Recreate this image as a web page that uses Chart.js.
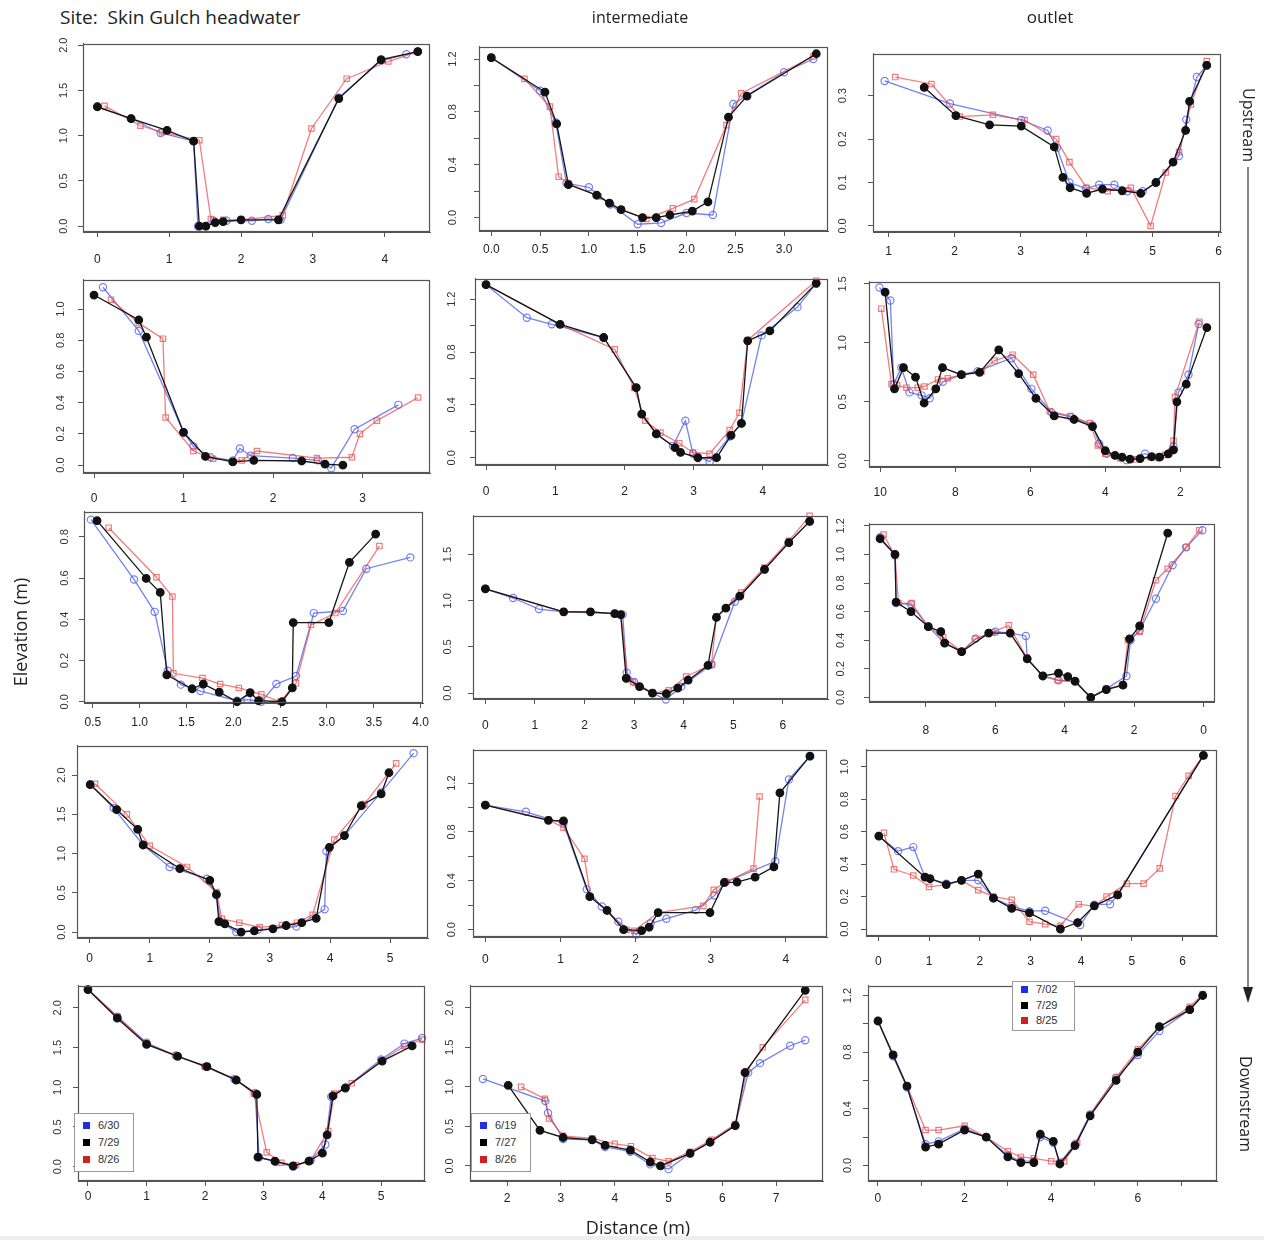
<!DOCTYPE html>
<html><head><meta charset="utf-8">
<script src="https://cdn.jsdelivr.net/npm/chart.js@4.4.1/dist/chart.umd.min.js"></script>
<style>
body{margin:0;background:#fff;width:1264px;height:1240px;position:relative;overflow:hidden;font-family:"Open Sans",sans-serif;color:#222;}
.pc{position:absolute;}
.t{position:absolute;white-space:nowrap;font-size:16px;line-height:20px;}
.leg{position:absolute;border:1px solid #999;background:#fff;font-family:"Liberation Sans",Arial,sans-serif;font-size:11px;color:#333;box-sizing:border-box;padding:3px 0 0 8px;}
.leg div{height:17px;line-height:17px;}
.leg.small{padding-top:0px;}
.leg.small div{height:15.5px;line-height:15.5px;}
.leg span{display:inline-block;width:7px;height:7px;margin-right:8px;vertical-align:0px;}
</style></head><body>
<script>
// ---------- data: [distance, elevation] ----------
// Row 1 (upstream)
const hw1Blue  = [[0,1.32],[0.47,1.19],[0.88,1.03],[1.34,0.94],[1.40,0.0],[1.51,0.0],[1.62,0.06],[1.80,0.06],[2.15,0.06],[2.38,0.08],[2.55,0.07],[3.36,1.42],[3.95,1.83],[4.30,1.90],[4.46,1.93]];
const hw1Black = [[0,1.32],[0.47,1.19],[0.97,1.06],[1.34,0.94],[1.42,0.0],[1.51,0.0],[1.64,0.04],[1.75,0.05],[2.0,0.07],[2.52,0.07],[3.36,1.41],[3.95,1.84],[4.46,1.93]];
const hw1Red   = [[0.10,1.33],[0.60,1.11],[0.90,1.04],[1.42,0.95],[1.58,0.08],[1.75,0.07],[2.0,0.07],[2.58,0.12],[2.98,1.08],[3.47,1.63],[4.05,1.82],[4.46,1.93]];
const in1Blue  = [[0,1.21],[0.50,0.96],[0.66,0.72],[0.77,0.26],[1.0,0.23],[1.22,0.10],[1.50,-0.05],[1.74,-0.04],[2.0,0.035],[2.27,0.02],[2.48,0.86],[3.0,1.10],[3.30,1.20]];
const in1Black = [[0,1.21],[0.55,0.95],[0.67,0.71],[0.79,0.25],[1.08,0.17],[1.21,0.11],[1.33,0.06],[1.55,0.0],[1.69,0.0],[1.83,0.02],[2.06,0.05],[2.22,0.12],[2.43,0.76],[2.62,0.92],[3.33,1.24]];
const in1Red   = [[0,1.21],[0.34,1.05],[0.60,0.84],[0.69,0.31],[0.79,0.26],[1.10,0.16],[1.33,0.06],[1.59,-0.01],[1.86,0.07],[2.08,0.14],[2.41,0.70],[2.56,0.94],[3.30,1.22]];
const ou1Blue  = [[0.94,0.334],[1.93,0.282],[3.01,0.244],[3.41,0.22],[3.55,0.18],[3.74,0.10],[3.99,0.086],[4.19,0.095],[4.42,0.095],[4.62,0.08],[4.85,0.08],[5.05,0.10],[5.40,0.161],[5.51,0.245],[5.67,0.343],[5.82,0.37]];
const ou1Black = [[1.54,0.319],[2.02,0.254],[2.53,0.233],[3.01,0.23],[3.51,0.182],[3.64,0.112],[3.75,0.088],[4.0,0.075],[4.24,0.085],[4.54,0.081],[4.82,0.075],[5.05,0.10],[5.31,0.147],[5.50,0.22],[5.56,0.287],[5.82,0.37]];
const ou1Red   = [[1.10,0.343],[1.65,0.327],[2.08,0.252],[2.58,0.256],[3.06,0.244],[3.54,0.20],[3.74,0.147],[4.0,0.088],[4.32,0.08],[4.67,0.088],[4.97,0.0],[5.20,0.123],[5.40,0.17],[5.58,0.28],[5.82,0.38]];
// Row 2
const hw2Blue  = [[0.10,1.14],[0.50,0.86],[1.0,0.21],[1.11,0.12],[1.30,0.05],[1.55,0.03],[1.63,0.106],[1.75,0.06],[2.22,0.045],[2.50,0.03],[2.65,-0.02],[2.91,0.23],[3.40,0.386]];
const hw2Black = [[0,1.09],[0.50,0.93],[0.585,0.82],[1.0,0.21],[1.245,0.055],[1.55,0.02],[1.785,0.03],[2.32,0.026],[2.58,0.006],[2.78,0.0]];
const hw2Red   = [[0.19,1.06],[0.50,0.91],[0.77,0.81],[0.80,0.305],[1.11,0.09],[1.33,0.04],[1.65,0.03],[1.82,0.09],[2.49,0.045],[2.88,0.05],[2.97,0.20],[3.16,0.285],[3.62,0.433]];
const in2Blue  = [[0,1.31],[0.59,1.06],[0.95,1.01],[1.70,0.91],[2.17,0.53],[2.25,0.33],[2.46,0.18],[2.70,0.09],[2.88,0.28],[2.99,0.03],[3.23,-0.03],[3.52,0.16],[3.69,0.26],[3.98,0.926],[4.50,1.14],[4.77,1.32]];
const in2Black = [[0,1.31],[1.07,1.01],[1.70,0.91],[2.17,0.53],[2.25,0.33],[2.46,0.18],[2.73,0.077],[2.81,0.04],[3.06,0.0],[3.33,0.0],[3.54,0.17],[3.69,0.26],[3.78,0.885],[4.10,0.96],[4.77,1.32]];
const in2Red   = [[0,1.31],[1.07,1.01],[1.86,0.82],[2.14,0.53],[2.30,0.28],[2.52,0.19],[2.79,0.11],[2.99,0.04],[3.23,0.03],[3.52,0.21],[3.66,0.34],[3.78,0.89],[4.77,1.34]];
const ou2Blue  = [[10.02,1.47],[9.73,1.36],[9.64,0.65],[9.44,0.79],[9.22,0.58],[8.90,0.555],[8.68,0.53],[8.33,0.67],[7.84,0.73],[7.40,0.76],[6.50,0.87],[5.97,0.61],[5.43,0.41],[4.90,0.37],[4.34,0.30],[4.16,0.145],[3.96,0.06],[3.43,0.005],[2.94,0.06],[2.60,0.03],[2.18,0.12],[2.05,0.58],[1.78,0.73],[1.51,1.16]];
const ou2Black = [[9.87,1.43],[9.62,0.61],[9.38,0.79],[9.06,0.71],[8.83,0.49],[8.52,0.61],[8.34,0.79],[7.84,0.73],[7.35,0.75],[6.84,0.94],[6.31,0.74],[5.85,0.53],[5.36,0.38],[4.83,0.35],[4.34,0.29],[4.0,0.085],[3.74,0.045],[3.55,0.03],[3.34,0.013],[3.07,0.018],[2.76,0.034],[2.55,0.03],[2.32,0.058],[2.18,0.093],[2.09,0.50],[1.84,0.65],[1.29,1.13]];
const ou2Red   = [[9.97,1.29],[9.70,0.65],[9.55,0.64],[9.30,0.62],[9.00,0.62],[8.82,0.63],[8.46,0.69],[8.20,0.70],[7.80,0.73],[7.30,0.76],[6.95,0.85],[6.47,0.90],[5.92,0.73],[5.48,0.42],[4.94,0.38],[4.41,0.32],[4.20,0.13],[4.0,0.06],[3.60,0.02],[3.20,0.01],[2.80,0.03],[2.40,0.05],[2.18,0.17],[2.14,0.54],[1.49,1.18]];
// Row 3
const hw3Blue  = [[0.48,0.883],[0.94,0.593],[1.16,0.436],[1.30,0.15],[1.44,0.083],[1.65,0.052],[2.04,0.005],[2.15,0.01],[2.30,0.0],[2.46,0.086],[2.67,0.125],[2.86,0.43],[3.17,0.44],[3.42,0.645],[3.89,0.70]];
const hw3Black = [[0.545,0.878],[1.07,0.598],[1.22,0.53],[1.29,0.13],[1.56,0.063],[1.68,0.086],[1.85,0.047],[2.04,0.0],[2.18,0.044],[2.27,0.005],[2.52,0.0],[2.63,0.067],[2.64,0.384],[3.02,0.384],[3.24,0.676],[3.52,0.813]];
const hw3Red   = [[0.67,0.844],[1.18,0.604],[1.35,0.51],[1.36,0.138],[1.67,0.115],[1.86,0.086],[2.06,0.067],[2.30,0.036],[2.50,0.0],[2.67,0.09],[2.83,0.373],[3.09,0.43],[3.56,0.755]];
const in3Blue  = [[0,1.13],[0.56,1.03],[1.08,0.91],[1.58,0.88],[2.61,0.86],[2.77,0.85],[2.85,0.22],[3.0,0.12],[3.37,0.0],[3.64,-0.07],[3.95,0.07],[4.56,0.31],[5.03,0.99],[5.63,1.34],[6.12,1.63],[6.54,1.86]];
const in3Black = [[0,1.13],[1.58,0.88],[2.12,0.88],[2.61,0.86],[2.73,0.85],[2.84,0.16],[3.11,0.07],[3.37,0.0],[3.65,-0.007],[3.88,0.054],[4.09,0.14],[4.49,0.30],[4.66,0.82],[4.85,0.92],[5.13,1.05],[5.63,1.34],[6.12,1.63],[6.54,1.86]];
const in3Red   = [[0,1.13],[1.58,0.88],[2.12,0.88],[2.61,0.86],[2.73,0.85],[2.88,0.15],[2.98,0.12],[3.37,0.0],[3.70,0.03],[4.05,0.18],[4.56,0.31],[4.66,0.83],[5.16,1.09],[5.63,1.36],[6.12,1.65],[6.54,1.92]];
const ou3Blue  = [[9.32,1.12],[8.89,1.0],[8.86,0.66],[8.43,0.65],[7.93,0.495],[7.46,0.38],[6.97,0.32],[6.57,0.41],[6.0,0.46],[5.57,0.45],[5.12,0.43],[5.08,0.27],[4.63,0.15],[4.18,0.12],[3.70,0.11],[3.25,0.0],[2.80,0.06],[2.22,0.15],[2.10,0.40],[1.84,0.47],[1.37,0.69],[0.89,0.925],[0.50,1.05],[0.03,1.17]];
const ou3Black = [[9.32,1.11],[8.89,1.0],[8.86,0.667],[8.43,0.60],[7.93,0.495],[7.57,0.46],[7.46,0.38],[6.97,0.32],[6.19,0.45],[5.57,0.45],[5.08,0.27],[4.63,0.15],[4.18,0.17],[3.91,0.146],[3.70,0.114],[3.25,0.0],[2.80,0.054],[2.32,0.086],[2.13,0.41],[1.84,0.50],[1.03,1.15]];
const ou3Red   = [[9.22,1.14],[8.89,0.99],[8.79,0.66],[8.41,0.66],[7.95,0.50],[7.50,0.42],[6.97,0.32],[6.57,0.41],[6.09,0.455],[5.61,0.505],[5.10,0.28],[4.63,0.15],[4.20,0.12],[3.70,0.11],[3.25,0.0],[2.80,0.06],[2.32,0.09],[2.18,0.40],[1.84,0.46],[1.37,0.82],[1.03,0.90],[0.50,1.05],[0.12,1.17]];
// Row 4
const hw4Blue  = [[0.01,1.88],[0.40,1.58],[0.89,1.11],[1.33,0.83],[1.95,0.68],[2.11,0.47],[2.18,0.13],[2.44,0.0],[2.80,0.03],[3.44,0.07],[3.91,0.29],[3.94,1.03],[4.24,1.23],[4.85,1.78],[5.39,2.28]];
const hw4Black = [[0.01,1.88],[0.45,1.56],[0.80,1.31],[0.89,1.11],[1.50,0.81],[2.0,0.66],[2.11,0.48],[2.15,0.134],[2.25,0.105],[2.52,0.0],[2.74,0.017],[3.05,0.042],[3.27,0.084],[3.53,0.12],[3.77,0.176],[3.99,1.08],[4.24,1.23],[4.52,1.61],[4.85,1.76],[4.98,2.03]];
const hw4Red   = [[0.09,1.89],[0.62,1.50],[1.0,1.10],[1.62,0.83],[2.11,0.51],[2.20,0.17],[2.49,0.12],[2.83,0.06],[3.20,0.09],[3.45,0.12],[3.71,0.22],[4.07,1.18],[4.57,1.63],[5.10,2.15]];
const in4Blue  = [[0,1.02],[0.54,0.965],[1.04,0.87],[1.35,0.33],[1.55,0.19],[1.77,0.065],[2.01,-0.04],[2.20,0.05],[2.41,0.09],[2.80,0.16],[3.05,0.28],[3.20,0.39],[3.86,0.56],[4.04,1.23],[4.32,1.42]];
const in4Black = [[0,1.02],[0.84,0.895],[1.04,0.89],[1.39,0.27],[1.62,0.157],[1.84,0.0],[2.08,-0.008],[2.18,0.02],[2.30,0.14],[2.99,0.14],[3.18,0.386],[3.35,0.39],[3.59,0.43],[3.84,0.514],[3.92,1.12],[4.32,1.42]];
const in4Red   = [[0,1.02],[0.84,0.90],[1.04,0.835],[1.32,0.58],[1.40,0.27],[1.62,0.16],[1.88,0.0],[1.98,-0.01],[2.30,0.14],[2.90,0.195],[3.04,0.326],[3.20,0.39],[3.57,0.50],[3.65,1.09]];
const ou4Blue  = [[0.01,0.573],[0.39,0.48],[0.69,0.505],[0.92,0.32],[1.34,0.28],[1.64,0.30],[1.97,0.30],[2.27,0.19],[2.63,0.14],[2.98,0.11],[3.29,0.113],[3.98,0.025],[4.26,0.15],[4.57,0.153],[4.72,0.21],[6.41,1.07]];
const ou4Black = [[0.01,0.573],[0.92,0.32],[1.02,0.31],[1.34,0.274],[1.64,0.30],[1.97,0.339],[2.27,0.19],[2.63,0.127],[2.98,0.10],[3.59,0.0],[3.93,0.04],[4.26,0.143],[4.72,0.21],[6.41,1.07]];
const ou4Red   = [[0.11,0.593],[0.31,0.368],[0.69,0.33],[1.0,0.26],[1.34,0.274],[1.64,0.30],[1.97,0.24],[2.27,0.20],[2.63,0.18],[2.98,0.045],[3.29,0.03],[3.59,0.02],[3.95,0.153],[4.26,0.14],[4.50,0.20],[4.90,0.28],[5.23,0.28],[5.55,0.374],[5.86,0.82],[6.12,0.945],[6.41,1.07]];
// Row 5 (downstream)
const hw5Blue  = [[0,2.23],[0.5,1.89],[1.0,1.56],[1.5,1.40],[2.0,1.26],[2.5,1.10],[2.85,0.93],[2.92,0.12],[3.2,0.06],[3.5,0.0],[3.8,0.08],[4.05,0.28],[4.15,0.88],[4.4,1.0],[5.0,1.35],[5.4,1.55],[5.7,1.62]];
const hw5Black = [[0,2.23],[0.5,1.87],[1.0,1.54],[1.53,1.39],[2.03,1.26],[2.53,1.09],[2.88,0.91],[2.9,0.12],[3.19,0.07],[3.5,0.01],[3.77,0.07],[4.0,0.17],[4.08,0.40],[4.18,0.89],[4.39,0.99],[5.02,1.33],[5.53,1.52]];
const hw5Red   = [[0,2.23],[0.5,1.89],[1.0,1.55],[1.5,1.40],[2.0,1.26],[2.5,1.11],[2.83,0.92],[3.05,0.18],[3.3,0.05],[3.55,0.02],[3.8,0.08],[4.1,0.45],[4.2,0.92],[4.5,1.05],[5.0,1.33],[5.4,1.52],[5.7,1.6]];
const in5Blue  = [[1.55,1.10],[2.71,0.82],[2.76,0.67],[3.04,0.34],[3.58,0.33],[3.82,0.24],[4.29,0.18],[4.66,0.02],[5.0,-0.04],[5.4,0.16],[5.77,0.30],[6.24,0.51],[6.48,1.18],[6.7,1.30],[7.26,1.52],[7.54,1.59]];
const in5Black = [[2.02,1.02],[2.61,0.45],[3.04,0.36],[3.58,0.33],[3.82,0.26],[4.29,0.20],[4.66,0.05],[4.85,0.0],[5.4,0.16],[5.77,0.30],[6.24,0.51],[6.42,1.18],[7.54,2.22]];
const in5Red   = [[2.26,1.0],[2.7,0.85],[2.78,0.6],[3.04,0.38],[3.58,0.35],[4.0,0.28],[4.3,0.25],[4.7,0.1],[5.0,0.06],[5.4,0.18],[5.8,0.33],[6.24,0.53],[6.45,1.2],[6.75,1.5],[7.54,2.1]];
const ou5Blue  = [[0,1.02],[0.35,0.77],[0.67,0.55],[1.1,0.15],[1.4,0.17],[2.0,0.26],[2.5,0.2],[3.0,0.07],[3.3,0.03],[3.6,0.03],[3.75,0.2],[4.05,0.16],[4.2,0.02],[4.55,0.15],[4.9,0.36],[5.5,0.62],[6.0,0.78],[6.5,0.95],[7.2,1.1],[7.5,1.2]];
const ou5Black = [[0,1.02],[0.35,0.78],[0.67,0.56],[1.1,0.13],[1.4,0.15],[2.0,0.25],[2.5,0.2],[3.0,0.06],[3.3,0.02],[3.6,0.02],[3.75,0.22],[4.05,0.17],[4.2,0.01],[4.55,0.14],[4.9,0.35],[5.5,0.6],[6.0,0.8],[6.5,0.98],[7.2,1.1],[7.5,1.2]];
const ou5Red   = [[0,1.02],[0.35,0.78],[0.67,0.56],[1.1,0.25],[1.4,0.25],[2.0,0.28],[2.5,0.2],[3.0,0.1],[3.3,0.06],[3.6,0.05],[4.0,0.03],[4.3,0.03],[4.6,0.16],[4.9,0.36],[5.5,0.62],[6.0,0.82],[6.5,0.98],[7.2,1.12],[7.5,1.21]];

// ---------- tick values and labels ----------
const xt1=[0,1,2,3,4], xl1=['0','1','2','3','4'];
const yt1=[0,0.5,1,1.5,2], yl1=['0.0','0.5','1.0','1.5','2.0'];
const xt2=[0,0.5,1,1.5,2,2.5,3], xl2=['0.0','0.5','1.0','1.5','2.0','2.5','3.0'];
const yt2=[0,0.2,0.4,0.6,0.8,1.0,1.2], yl2=['0.0','','0.4','','0.8','','1.2'];
const xt3=[1,2,3,4,5,6], xl3=['1','2','3','4','5','6'];
const yt3=[0,0.1,0.2,0.3], yl3=['0.0','0.1','0.2','0.3'];
const xt4=[0,1,2,3], xl4=['0','1','2','3'];
const yt4=[0,0.2,0.4,0.6,0.8,1.0], yl4=['0.0','0.2','0.4','0.6','0.8','1.0'];
const xt5=[0,1,2,3,4], xl5=['0','1','2','3','4'];
const yt5=[0,0.2,0.4,0.6,0.8,1.0,1.2], yl5=['0.0','','0.4','','0.8','','1.2'];
const xt6=[10,8,6,4,2], xl6=['10','8','6','4','2'];
const yt6=[0,0.5,1.0,1.5], yl6=['0.0','0.5','1.0','1.5'];
const xt7=[0.5,1,1.5,2,2.5,3,3.5,4], xl7=['0.5','1.0','1.5','2.0','2.5','3.0','3.5','4.0'];
const yt7=[0,0.2,0.4,0.6,0.8], yl7=['0.0','0.2','0.4','0.6','0.8'];
const xt8=[0,1,2,3,4,5,6], xl8=['0','1','2','3','4','5','6'];
const yt8=[0,0.5,1.0,1.5], yl8=['0.0','0.5','1.0','1.5'];
const xt9=[8,6,4,2,0], xl9=['8','6','4','2','0'];
const yt9=[0,0.2,0.4,0.6,0.8,1.0,1.2], yl9=['0.0','0.2','0.4','0.6','0.8','1.0','1.2'];
const xt10=[0,1,2,3,4,5], xl10=['0','1','2','3','4','5'];
const yt10=[0,0.5,1.0,1.5,2.0], yl10=['0.0','0.5','1.0','1.5','2.0'];
const xt11=[0,1,2,3,4], xl11=['0','1','2','3','4'];
const yt11=[0,0.2,0.4,0.6,0.8,1.0,1.2], yl11=['0.0','','0.4','','0.8','','1.2'];
const xt12=[0,1,2,3,4,5,6], xl12=['0','1','2','3','4','5','6'];
const yt12=[0,0.2,0.4,0.6,0.8,1.0], yl12=['0.0','0.2','0.4','0.6','0.8','1.0'];
const xt13=[0,1,2,3,4,5], xl13=['0','1','2','3','4','5'];
const yt13=[0,0.5,1.0,1.5,2.0], yl13=['0.0','0.5','1.0','1.5','2.0'];
const xt14=[2,3,4,5,6,7], xl14=['2','3','4','5','6','7'];
const yt14=[0,0.5,1.0,1.5,2.0], yl14=['0.0','0.5','1.0','1.5','2.0'];
const xt15=[0,1,2,3,4,5,6,7], xl15=['0','','2','','4','','6',''];
const yt15=[0,0.2,0.4,0.6,0.8,1.0,1.2], yl15=['0.0','','0.4','','0.8','','1.2'];

const legHw  = ['6/30','7/29','8/26'];
const legInt = ['6/19','7/27','8/26'];
const legOut = ['7/02','7/29','8/25'];

// ---------- layout (plot boxes in page px, axis ranges) ----------
const PANELS = [
 {box:[83,37,430,232],  xr:[-0.20,4.63],  yr:[-0.064,2.018], xt:xt1, xl:xl1, yt:yt1, yl:yl1, s:[hw1Blue,hw1Black,hw1Red], xo:27, yo:19},
 {box:[479,33,828,231], xr:[-0.126,3.45], yr:[-0.101,1.294], xt:xt2, xl:xl2, yt:yt2, yl:yl2, s:[in1Blue,in1Black,in1Red], xo:18, yo:26},
 {box:[873,36,1223,232],xr:[0.764,6.04],  yr:[-0.014,0.397], xt:xt3, xl:xl3, yt:yt3, yl:yl3, s:[ou1Blue,ou1Black,ou1Red], xo:19, yo:30},
 {box:[83,270,430,473], xr:[-0.123,3.753],yr:[-0.051,1.189], xt:xt4, xl:xl4, yt:yt4, yl:yl4, s:[hw2Blue,hw2Black,hw2Red], xo:25, yo:22},
 {box:[475,268,828,465],xr:[-0.159,4.94], yr:[-0.055,1.356], xt:xt5, xl:xl5, yt:yt5, yl:yl5, s:[in2Blue,in2Black,in2Red], xo:26, yo:23},
 {box:[869,268,1220,467],xr:[0.94,10.30], rev:true, yr:[-0.053,1.52], xt:xt6, xl:xl6, yt:yt6, yl:yl6, s:[ou2Blue,ou2Black,ou2Red], xo:25, yo:26},
 {box:[84,505,430,703], xr:[0.406,4.03],  yr:[-0.006,0.922], xt:xt7, xl:xl7, yt:yt7, yl:yl7, s:[hw3Blue,hw3Black,hw3Red], xo:19, yo:19},
 {box:[473,503,828,699],xr:[-0.249,6.91], yr:[-0.064,1.923], xt:xt8, xl:xl8, yt:yt8, yl:yl8, s:[in3Blue,in3Black,in3Red], xo:26, yo:25},
 {box:[869,508,1217,702],xr:[-0.325,9.64], rev:true, yr:[-0.032,1.216], xt:xt9, xl:xl9, yt:yt9, yl:yl9, s:[ou3Blue,ou3Black,ou3Red], xo:28, yo:28},
 {box:[77,743,428,938], xr:[-0.21,5.63],  yr:[-0.075,2.376], xt:xt10, xl:xl10, yt:yt10, yl:yl10, s:[hw4Blue,hw4Black,hw4Red], xo:20, yo:15},
 {box:[473,741,827,937],xr:[-0.164,4.547],yr:[-0.06,1.474],  xt:xt11, xl:xl11, yt:yt11, yl:yl11, s:[in4Blue,in4Black,in4Red], xo:22, yo:21},
 {box:[866,741,1217,936],xr:[-0.243,6.678],yr:[-0.043,1.106],xt:xt12, xl:xl12, yt:yt12, yl:yl12, s:[ou4Blue,ou4Black,ou4Red], xo:25, yo:21},
 {box:[78,978,425,1181], xr:[-0.17,5.75], yr:[-0.18,2.28],   xt:xt13, xl:xl13, yt:yt13, yl:yl13, s:[hw5Blue,hw5Black,hw5Red], xo:15, yo:20},
 {box:[470,978,823,1181],xr:[1.31,7.87],  yr:[-0.19,2.28],   xt:xt14, xl:xl14, yt:yt14, yl:yl14, s:[in5Blue,in5Black,in5Red], xo:17, yo:20},
 {box:[868,978,1217,1181],xr:[-0.23,7.83],yr:[-0.11,1.27],   xt:xt15, xl:xl15, yt:yt15, yl:yl15, s:[ou5Blue,ou5Black,ou5Red], xo:17, yo:20}
];

const STY = [
  {line:'rgba(70,90,235,0.75)', pc:'rgba(70,90,235,0.75)', fill:'rgba(255,255,255,0)', pt:'circle', r:3.6, order:3},
  {line:'#151515', pc:'#111', fill:'#111', pt:'circle', r:3.8, order:1},
  {line:'rgba(235,70,70,0.7)', pc:'rgba(235,80,80,0.75)', fill:'rgba(255,255,255,0)', pt:'rect', r:3.8, order:2}
];

const boxPlugin = {id:'rbox', afterDatasetsDraw(c){
  const a=c.chartArea, ctx=c.ctx; ctx.save(); ctx.strokeStyle='#555'; ctx.lineWidth=1.2;
  ctx.strokeRect(Math.round(a.left)+0.5, Math.round(a.top)+0.5, Math.round(a.right-a.left)-1, Math.round(a.bottom-a.top)-1);
  ctx.restore();}};

const AXW=42, AXH=42, PADL=2, PADT=6, PADR=6;
PANELS.forEach(p=>{
  const W=p.box[2]-p.box[0], H=p.box[3]-p.box[1];
  const cw=W+AXW+PADL+PADR, ch=H+PADT+AXH;
  const div=document.createElement('div'); div.className='pc';
  div.style.left=(p.box[0]-AXW-PADL)+'px'; div.style.top=(p.box[1]-PADT)+'px';
  div.style.width=cw+'px'; div.style.height=ch+'px';
  const cv=document.createElement('canvas'); cv.width=cw; cv.height=ch; cv.style.width=cw+'px'; cv.style.height=ch+'px';
  div.appendChild(cv); document.body.appendChild(div);
  const datasets=p.s.map((d,i)=>({
    data:d.map(([x,y])=>({x,y})), showLine:true, borderColor:STY[i].line, borderWidth:1.3,
    pointStyle:STY[i].pt, pointRadius:STY[i].r, pointBorderColor:STY[i].pc, pointBackgroundColor:STY[i].fill,
    pointBorderWidth:1.2, order:STY[i].order, clip:8, tension:0
  }));
  new Chart(cv,{type:'scatter', data:{datasets},
    options:{responsive:false, animation:false, events:[],
      layout:{padding:{left:PADL,right:PADR,top:PADT,bottom:0}},
      plugins:{legend:{display:false},tooltip:{enabled:false}},
      scales:{
        x:{type:'linear', min:p.xr[0], max:p.xr[1], reverse:!!p.rev,
          afterBuildTicks:s=>{s.ticks=p.xt.map(v=>({value:v}));},
          afterFit:s=>{s.height=AXH;},
          ticks:{autoSkip:false, minRotation:0, maxRotation:0, padding:Math.max(0,p.xo-12), color:'#222',
            font:{family:'Liberation Sans', size:12}, callback:(v,i)=>p.xl[i]},
          grid:{drawOnChartArea:false, drawTicks:true, tickLength:5, color:'#555', lineWidth:1},
          border:{display:true, color:'#555'}},
        y:{type:'linear', min:p.yr[0], max:p.yr[1],
          afterBuildTicks:s=>{s.ticks=p.yt.map(v=>({value:v}));},
          afterFit:s=>{s.width=AXW;},
          ticks:{autoSkip:false, minRotation:90, maxRotation:90, crossAlign:'center', padding:Math.max(0,p.yo-13), color:'#333',
            font:{family:'Liberation Sans', size:11}, callback:(v,i)=>p.yl[i]},
          grid:{drawOnChartArea:false, drawTicks:true, tickLength:5, color:'#555', lineWidth:1},
          border:{display:true, color:'#555'}}
      }},
    plugins:[boxPlugin]});
});

// legends
const LEGCOL=['#2030e0','#000000','#d02020'];
function legend(items,left,top,w,h,cls){
  const d=document.createElement('div'); d.className='leg'+(cls?' '+cls:'');
  d.style.left=left+'px'; d.style.top=top+'px'; d.style.width=w+'px'; d.style.height=h+'px';
  items.forEach((t,i)=>{const r=document.createElement('div'); const s=document.createElement('span'); s.style.background=LEGCOL[i]; r.appendChild(s); r.appendChild(document.createTextNode(t)); d.appendChild(r);});
  document.body.appendChild(d);
}
legend(legHw,74,1113,60,59);
legend(legInt,471,1113,60,59);
legend(legOut,1012,981,63,50,'small');
</script>
<div class="t" style="left:60px;top:6px;font-size:19px;line-height:22px;">Site:&nbsp; Skin Gulch headwater</div>
<div class="t" style="left:640px;top:7px;transform:translateX(-50%);">intermediate</div>
<div class="t" style="left:1050px;top:7px;font-size:17px;transform:translateX(-50%);">outlet</div>
<div class="t" style="left:20px;top:632px;font-size:18px;transform:translate(-50%,-50%) rotate(-90deg);">Elevation (m)</div>
<div class="t" style="left:638px;top:1227px;font-size:18px;transform:translate(-50%,-50%);">Distance (m)</div>
<div class="t" style="left:1249px;top:125px;transform:translate(-50%,-50%) rotate(90deg);">Upstream</div>
<div class="t" style="left:1246px;top:1104px;transform:translate(-50%,-50%) rotate(90deg);">Downstream</div>
<svg style="position:absolute;left:1240px;top:165px;" width="16" height="850">
  <line x1="8" y1="2" x2="8" y2="826" stroke="#333" stroke-width="1.2"/>
  <polygon points="3,822 13,822 8,838" fill="#222"/>
</svg>
<div style="position:absolute;left:0;top:1236px;width:1264px;height:4px;background:#eeeeee;"></div>
</body></html>
